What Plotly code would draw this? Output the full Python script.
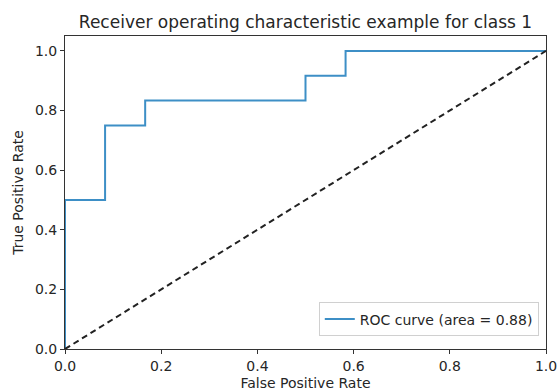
import plotly.graph_objects as go

fpr = [0.0, 0.0, 1/12, 1/12, 2/12, 2/12, 6/12, 6/12, 7/12, 7/12, 1.0]
tpr = [0.0, 0.5, 0.5, 0.75, 0.75, 10/12, 10/12, 11/12, 11/12, 1.0, 1.0]
roc_auc = 0.88
diag_x = [0, 1]
diag_y = [0, 1]
tick_vals = [0.0, 0.2, 0.4, 0.6, 0.8, 1.0]
tick_text = ["0.0", "0.2", "0.4", "0.6", "0.8", "1.0"]

FONT = "DejaVu Sans"
fig = go.Figure()
fig.add_trace(go.Scatter(x=fpr, y=tpr, mode="lines",
                         line=dict(color="#3d8fc6", width=2),
                         name="ROC curve (area = %0.2f)" % roc_auc))
fig.add_trace(go.Scatter(x=diag_x, y=diag_y, mode="lines",
                         line=dict(color="#222222", width=2, dash="6px,4px"),
                         showlegend=False))

axis_common = dict(showgrid=False, zeroline=False, showline=True, linecolor="#333333",
                   linewidth=1, mirror=True, ticks="outside", ticklen=4, tickcolor="#333333",
                   tickvals=tick_vals, ticktext=tick_text, automargin=False,
                   layer="above traces",
                   tickfont=dict(family=FONT, size=14, color="#262626"))
fig.update_layout(
    width=558, height=391,
    margin=dict(l=65, r=12, t=36, b=42),
    paper_bgcolor="white", plot_bgcolor="white",
    title=dict(text="Receiver operating characteristic example for class 1",
               x=0.5, xref="paper", y=1 - 22/391, yref="container", yanchor="middle",
               font=dict(family=FONT, size=17, color="#262626")),
    xaxis=dict(range=[0, 1], title=dict(text="False Positive Rate", standoff=6,
               font=dict(family=FONT, size=14, color="#262626")), **axis_common),
    yaxis=dict(range=[0, 1.05], title=dict(text="True Positive Rate", standoff=8,
               font=dict(family=FONT, size=14, color="#262626")), **axis_common),
    legend=dict(x=0.985, y=0.04, xanchor="right", yanchor="bottom",
                bgcolor="white", bordercolor="#d0d0d0", borderwidth=1,
                font=dict(family=FONT, size=14, color="#262626")),
)
fig.write_html("out.html")
